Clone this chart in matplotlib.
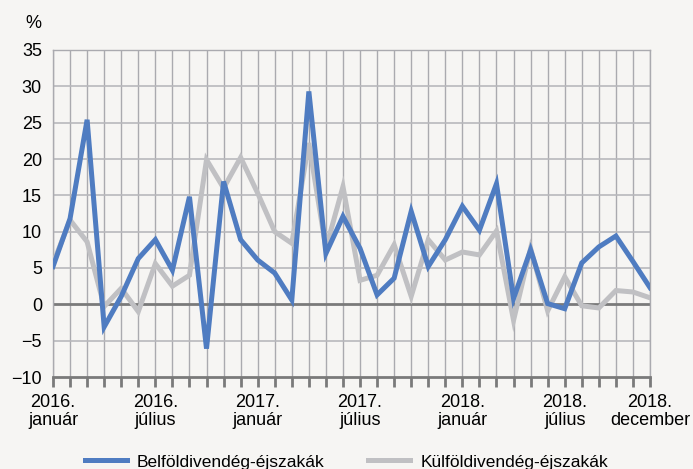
import numpy as np
import matplotlib
matplotlib.use('Agg')
import matplotlib.pyplot as plt

# monthly change, %, 2016 jan .. 2018 dec
belfoldi = [5.2, 11.8, 25.4, -3.1, 1.1, 6.3, 8.9, 4.7, 14.8, -6.1, 16.9, 8.9,
            6.1, 4.3, 0.6, 29.3, 7.0, 12.1, 7.7, 1.3, 3.6, 12.8, 5.2, 8.9,
            13.5, 10.2, 16.6, 0.8, 7.5, 0.1, -0.6, 5.7, 7.9, 9.4, 5.9, 2.3]
kulfoldi = [5.6, 11.6, 8.6, -0.3, 2.2, -1.0, 5.6, 2.5, 4.0, 19.9, 16.0, 20.2,
            15.3, 10.0, 8.4, 22.2, 7.7, 16.2, 3.3, 4.0, 8.2, 1.1, 8.9, 6.1,
            7.2, 6.8, 10.1, -2.2, 7.7, -0.9, 3.8, -0.2, -0.5, 1.9, 1.7, 0.9]
labels = {0: '2016.\njanuár', 6: '2016.\njúlius', 12: '2017.\njanuár',
          18: '2017.\njúlius', 24: '2018.\njanuár', 30: '2018.\njúlius',
          35: '2018.\ndecember'}
series_names = ['Belföldivendég-éjszakák', 'Külföldivendég-éjszakák']

bg = '#f6f5f3'
blue = '#4f7cc1'
gray = '#c0c0c3'
grid = '#aaaaaf'

plt.rcParams['font.family'] = ['Liberation Sans', 'DejaVu Sans']

fig = plt.figure(figsize=(6.93, 4.69), dpi=100, facecolor=bg)
ax = fig.add_axes([53/693, 92/469, 597/693, 327/469])
ax.set_facecolor(bg)

n = len(belfoldi)
x = np.arange(n)

# grid
for i in x:
    ax.axvline(i, color=grid, lw=1.0, zorder=1)
for v in range(-5, 36, 5):
    if v != 0:
        ax.axhline(v, color='#b8b8bc', lw=1.2, zorder=1)
ax.axhline(0, color='#7a7a7a', lw=2.0, zorder=2)

l1, = ax.plot(x, belfoldi, color=blue, lw=3.6, zorder=4, solid_joinstyle='miter')
l2, = ax.plot(x, kulfoldi, color=gray, lw=3.6, zorder=3, solid_joinstyle='miter')

ax.set_xlim(0, n - 1)
ax.set_ylim(-10, 35)
ax.set_yticks(range(-10, 36, 5))
ax.set_yticklabels([str(v).replace('-', '\u2212') for v in range(-10, 36, 5)])
ax.set_xticks(x)
ax.set_xticklabels([labels.get(i, '') for i in x], linespacing=1.1)

ax.tick_params(axis='y', length=0, labelsize=13, pad=8)
ax.tick_params(axis='x', length=7, width=2, color='#7a7a7a', labelsize=13, pad=5)

for s in ['top', 'right', 'left']:
    ax.spines[s].set_color(grid)
    ax.spines[s].set_linewidth(1.0)
ax.spines['bottom'].set_color('#7a7a7a')
ax.spines['bottom'].set_linewidth(2.0)

fig.text(25/693, 1 - 24/469, '%', fontsize=13, ha='left', va='center')

fig.legend([l1, l2], series_names, loc='center', bbox_to_anchor=(0.5, 1 - 462/469),
           ncol=2, frameon=False, fontsize=12.5, handlelength=2.4,
           handletextpad=0.6, columnspacing=2.5)

fig.savefig('out.png', dpi=100, facecolor=bg)
